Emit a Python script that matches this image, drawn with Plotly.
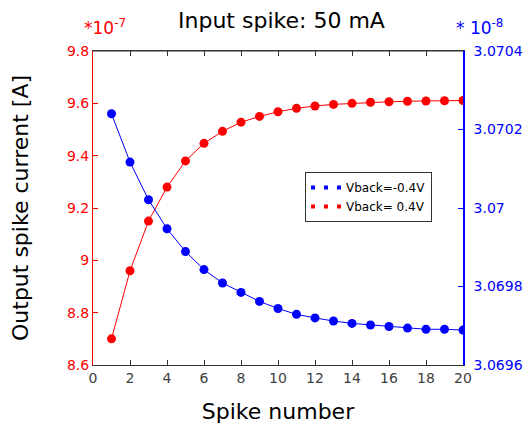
import plotly.graph_objects as go

spike = list(range(1, 21))
red_vals = [8.70, 8.96, 9.15, 9.28, 9.38, 9.447, 9.493, 9.528, 9.550, 9.568,
            9.581, 9.590, 9.596, 9.600, 9.604, 9.606, 9.608, 9.609, 9.610, 9.611]
blue_vals = [3.07024, 3.070117, 3.070021, 3.069947, 3.069889, 3.069843, 3.069809,
             3.069785, 3.069762, 3.069744, 3.069729, 3.06972, 3.069712, 3.069706,
             3.069702, 3.069698, 3.069694, 3.069691, 3.069691, 3.069689]
left_ticks = [8.6, 8.8, 9.0, 9.2, 9.4, 9.6, 9.8]
left_labels = ["8.6", "8.8", "9", "9.2", "9.4", "9.6", "9.8"]
right_ticks = [3.0696, 3.0698, 3.0700, 3.0702, 3.0704]
right_labels = ["3.0696", "3.0698", "3.07", "3.0702", "3.0704"]
x_ticks = list(range(0, 21, 2))

RED = "#ff0000"
BLUE = "#0000ff"
FONT = "DejaVu Sans"

fig = go.Figure()
fig.add_trace(go.Scatter(x=spike, y=red_vals, mode="lines+markers", yaxis="y",
                         line=dict(color=RED, width=1), marker=dict(color=RED, size=9),
                         showlegend=False))
fig.add_trace(go.Scatter(x=spike, y=blue_vals, mode="lines+markers", yaxis="y2",
                         line=dict(color=BLUE, width=1), marker=dict(color=BLUE, size=9),
                         showlegend=False))
# legend entries
fig.add_trace(go.Scatter(x=[None], y=[None], mode="lines", name="Vback=-0.4V",
                         line=dict(color=BLUE, width=4, dash="4px,9px")))
fig.add_trace(go.Scatter(x=[None], y=[None], mode="lines", name="Vback= 0.4V",
                         line=dict(color=RED, width=4, dash="4px,9px")))

fig.update_layout(
    width=525, height=431,
    margin=dict(l=93, r=62, t=51, b=66, autoexpand=False),
    paper_bgcolor="white", plot_bgcolor="white",
    font=dict(family=FONT, size=14),
    showlegend=True,
    legend=dict(x=0.573, y=0.615, xanchor="left", yanchor="top",
                bordercolor="#333333", borderwidth=1, bgcolor="white",
                font=dict(family=FONT, size=12, color="black"),
                itemwidth=30, tracegroupgap=0),
    xaxis=dict(range=[0, 20], tickvals=x_ticks, ticks="inside", ticklen=5,
               tickcolor="#333333", showline=True, linecolor="#333333", linewidth=1,
               mirror="ticks", showgrid=False, zeroline=False, automargin=False,
               tickfont=dict(color="#404040", size=14, family=FONT),
               title=dict(text="Spike number", font=dict(size=22, color="black", family=FONT),
                          standoff=18)),
    yaxis=dict(range=[8.6, 9.8], tickvals=left_ticks, ticktext=left_labels,
               ticks="inside", ticklen=5, tickcolor=RED, showline=True, linecolor=RED,
               linewidth=1, showgrid=False, zeroline=False, automargin=False,
               tickfont=dict(color=RED, size=14, family=FONT),
               title=dict(text="Output spike current [A]",
                          font=dict(size=22, color="black", family=FONT), standoff=32)),
    yaxis2=dict(range=[3.0696, 3.0704], tickvals=right_ticks, ticktext=right_labels,
                overlaying="y", side="right", ticks="inside", ticklen=5, tickcolor=BLUE,
                showline=True, linecolor=BLUE, linewidth=1.5, showgrid=False,
                zeroline=False, automargin=False, ticklabelstandoff=6,
                tickfont=dict(color=BLUE, size=14, family=FONT)),
    annotations=[
        dict(text="Input spike: 50 mA", xref="paper", yref="paper", x=0.51, y=1.0,
             xanchor="center", yanchor="middle", yshift=31, showarrow=False,
             font=dict(size=22, color="black", family=FONT)),
        dict(text="*10<sup>-7</sup>", xref="paper", yref="paper", x=0.0, y=1.0,
             xanchor="center", yanchor="middle", yshift=24, xshift=12, showarrow=False,
             font=dict(size=17, color=RED, family=FONT)),
        dict(text="* 10<sup>-8</sup>", xref="paper", yref="paper", x=1.0, y=1.0,
             xanchor="center", yanchor="middle", yshift=24, xshift=16, showarrow=False,
             font=dict(size=17, color=BLUE, family=FONT)),
    ],
)
# black top line
fig.add_shape(type="line", xref="paper", yref="paper", x0=0, x1=1, y0=1, y1=1,
              line=dict(color="#333333", width=1))

fig.write_html("out.html")
